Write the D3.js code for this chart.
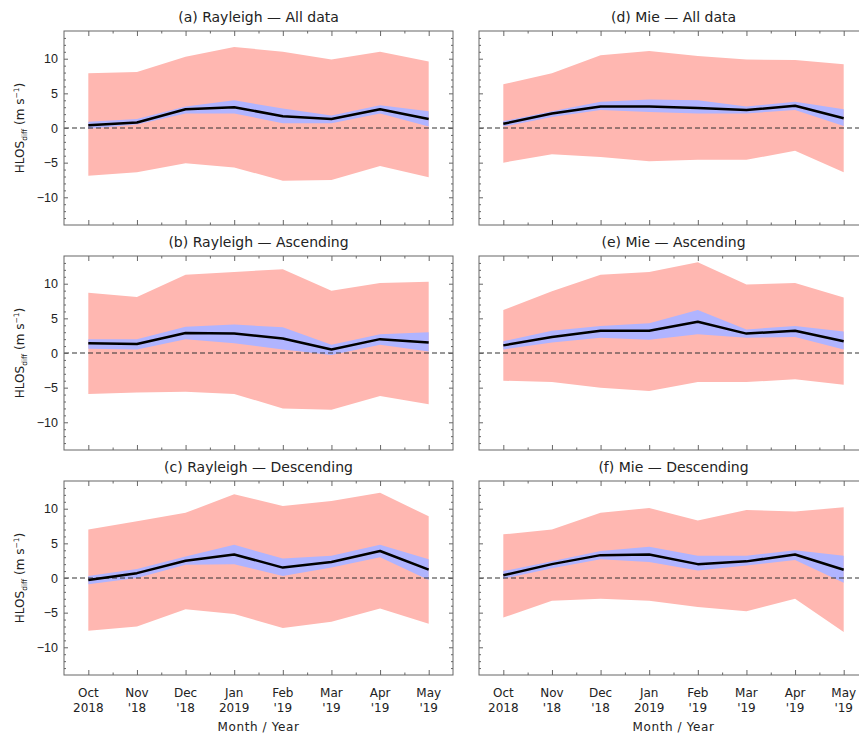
<!DOCTYPE html>
<html>
<head>
<meta charset="utf-8">
<script src="https://cdn.jsdelivr.net/npm/d3@7"></script>
<style>
  body { margin: 0; background: #fff; }
  svg { display: block; font-family: "DejaVu Sans", sans-serif; }
</style>
</head>
<body>
<div id="chart"></div>
<script>
const width = 859;
const height = 737;

// month index 0 = Oct 2018 ... 7 = May 2019
const months = [0, 1, 2, 3, 4, 5, 6, 7];
const monthNames = ["Oct", "Nov", "Dec", "Jan", "Feb", "Mar", "Apr", "May"];
const yearNames = ["2018", "'18", "'18", "2019", "'19", "'19", "'19", "'19"];
const xMinor = [0.5, 1.5, 2.5, 3.5, 4.5, 5.5, 6.5];
const yMajor = [-10, -5, 0, 5, 10];
const yMinor = [-13, -12, -11, -9, -8, -7, -6, -4, -3, -2, -1, 1, 2, 3, 4, 6, 7, 8, 9, 11, 12, 13];

// (a) Rayleigh - All data
const rayAllMean = [0.4, 0.8, 2.7, 3.0, 1.7, 1.3, 2.7, 1.3];
const rayAllCiHi = [0.9, 1.3, 3.1, 4.0, 2.8, 1.8, 3.3, 2.4];
const rayAllCiLo = [-0.1, 0.5, 2.1, 2.1, 0.7, 0.7, 2.1, 0.2];
const rayAllSdHi = [7.9, 8.1, 10.3, 11.7, 11.0, 9.9, 11.0, 9.6];
const rayAllSdLo = [-6.9, -6.4, -5.1, -5.7, -7.6, -7.5, -5.5, -7.1];

// (b) Rayleigh - Ascending
const rayAscMean = [1.4, 1.3, 2.9, 2.8, 2.1, 0.5, 2.0, 1.5];
const rayAscCiHi = [2.0, 2.0, 3.8, 4.1, 3.7, 1.2, 2.7, 3.0];
const rayAscCiLo = [0.6, 0.5, 2.0, 1.4, 0.5, -0.3, 1.2, 0.2];
const rayAscSdHi = [8.7, 8.1, 11.3, 11.7, 12.1, 9.0, 10.1, 10.3];
const rayAscSdLo = [-5.9, -5.7, -5.6, -5.9, -8.0, -8.2, -6.2, -7.4];

// (c) Rayleigh - Descending
const rayDesMean = [-0.3, 0.7, 2.5, 3.4, 1.5, 2.3, 3.9, 1.2];
const rayDesCiHi = [0.3, 1.3, 3.1, 4.8, 2.8, 3.2, 4.8, 2.7];
const rayDesCiLo = [-0.9, 0.0, 1.9, 2.0, 0.3, 1.5, 3.0, -0.3];
const rayDesSdHi = [7.0, 8.2, 9.4, 12.1, 10.4, 11.1, 12.3, 8.9];
const rayDesSdLo = [-7.6, -7.0, -4.5, -5.2, -7.2, -6.3, -4.4, -6.6];

// (d) Mie - All data
const mieAllMean = [0.6, 2.1, 3.1, 3.1, 2.9, 2.6, 3.2, 1.4];
const mieAllCiHi = [1.0, 2.4, 3.8, 4.1, 4.0, 3.1, 3.8, 2.7];
const mieAllCiLo = [0.2, 1.6, 2.6, 2.3, 2.1, 2.1, 2.6, 0.3];
const mieAllSdHi = [6.3, 7.9, 10.5, 11.1, 10.4, 9.9, 9.8, 9.2];
const mieAllSdLo = [-5.0, -3.8, -4.2, -4.8, -4.6, -4.6, -3.3, -6.4];

// (e) Mie - Ascending
const mieAscMean = [1.1, 2.3, 3.2, 3.2, 4.5, 2.8, 3.2, 1.7];
const mieAscCiHi = [1.7, 3.2, 3.9, 4.3, 6.2, 3.4, 3.9, 3.1];
const mieAscCiLo = [0.5, 1.5, 2.2, 1.9, 2.7, 2.2, 2.3, 0.5];
const mieAscSdHi = [6.2, 8.9, 11.3, 11.7, 13.1, 9.9, 10.1, 8.0];
const mieAscSdLo = [-4.0, -4.2, -5.0, -5.5, -4.2, -4.2, -3.8, -4.6];

// (f) Mie - Descending
const mieDesMean = [0.4, 2.0, 3.3, 3.4, 2.0, 2.4, 3.4, 1.2];
const mieDesCiHi = [1.0, 2.4, 3.9, 4.5, 3.2, 3.2, 4.0, 3.2];
const mieDesCiLo = [-0.1, 1.4, 2.7, 2.3, 1.1, 1.8, 2.6, -0.7];
const mieDesSdHi = [6.3, 7.0, 9.4, 10.1, 8.3, 9.8, 9.6, 10.2];
const mieDesSdLo = [-5.7, -3.3, -3.0, -3.3, -4.2, -4.8, -3.0, -7.8];

const panels = [
  {title: "(a) Rayleigh \u2014 All data",    col: 0, row: 0, mean: rayAllMean, ciHi: rayAllCiHi, ciLo: rayAllCiLo, sdHi: rayAllSdHi, sdLo: rayAllSdLo},
  {title: "(b) Rayleigh \u2014 Ascending",   col: 0, row: 1, mean: rayAscMean, ciHi: rayAscCiHi, ciLo: rayAscCiLo, sdHi: rayAscSdHi, sdLo: rayAscSdLo},
  {title: "(c) Rayleigh \u2014 Descending",  col: 0, row: 2, mean: rayDesMean, ciHi: rayDesCiHi, ciLo: rayDesCiLo, sdHi: rayDesSdHi, sdLo: rayDesSdLo},
  {title: "(d) Mie \u2014 All data",         col: 1, row: 0, mean: mieAllMean, ciHi: mieAllCiHi, ciLo: mieAllCiLo, sdHi: mieAllSdHi, sdLo: mieAllSdLo},
  {title: "(e) Mie \u2014 Ascending",        col: 1, row: 1, mean: mieAscMean, ciHi: mieAscCiHi, ciLo: mieAscCiLo, sdHi: mieAscSdHi, sdLo: mieAscSdLo},
  {title: "(f) Mie \u2014 Descending",       col: 1, row: 2, mean: mieDesMean, ciHi: mieDesCiHi, ciLo: mieDesCiLo, sdHi: mieDesSdHi, sdLo: mieDesSdLo}
];

const colLeft = [64, 479];
const rowTop = [31, 256, 481];
const pw = 389;
const ph = 194;
const frameColor = "#666";

const svg = d3.select("#chart").append("svg")
  .attr("width", width)
  .attr("height", height);

panels.forEach(p => drawPanel(p));

function drawPanel(p) {
  const x0 = colLeft[p.col];
  const y0 = rowTop[p.row];
  const x = d3.scaleLinear().domain([-0.5, 7.5]).range([x0, x0 + pw]);
  const y = d3.scaleLinear().domain([-14, 14]).range([y0 + ph, y0]);
  const g = svg.append("g");

  const pts = months.map(i => ({i, mean: p.mean[i], ciHi: p.ciHi[i], ciLo: p.ciLo[i], sdHi: p.sdHi[i], sdLo: p.sdLo[i]}));

  g.append("path")
    .datum(pts)
    .attr("fill", "#ffb7b1")
    .attr("d", d3.area().x(d => x(d.i)).y0(d => y(d.sdLo)).y1(d => y(d.sdHi)));

  g.append("path")
    .datum(pts)
    .attr("fill", "#b0b4ff")
    .attr("d", d3.area().x(d => x(d.i)).y0(d => y(d.ciLo)).y1(d => y(d.ciHi)));

  g.append("line")
    .attr("x1", x(-0.5)).attr("x2", x(7.5))
    .attr("y1", y(0)).attr("y2", y(0))
    .attr("stroke", "#333")
    .attr("stroke-width", 1.2)
    .attr("stroke-dasharray", "5,3");

  g.append("path")
    .datum(pts)
    .attr("fill", "none")
    .attr("stroke", "#000")
    .attr("stroke-width", 2.5)
    .attr("stroke-linejoin", "round")
    .attr("d", d3.line().x(d => x(d.i)).y(d => y(d.mean)));

  // frame
  g.append("rect")
    .attr("x", x0).attr("y", y0)
    .attr("width", pw).attr("height", ph)
    .attr("fill", "none")
    .attr("stroke", frameColor)
    .attr("stroke-width", 1);

  const styleAxis = sel => {
    sel.select(".domain").remove();
    sel.selectAll("line").attr("stroke", frameColor);
    sel.selectAll("text").attr("fill", "#222");
  };

  // x ticks, bottom and top, pointing inward
  const showX = p.row === 2;
  g.append("g").attr("transform", `translate(0,${y0 + ph})`)
    .call(d3.axisBottom(x).tickValues(months).tickSize(-5).tickFormat(""))
    .call(styleAxis);
  g.append("g").attr("transform", `translate(0,${y0 + ph})`)
    .call(d3.axisBottom(x).tickValues(xMinor).tickSize(-2.5).tickFormat(""))
    .call(styleAxis);
  g.append("g").attr("transform", `translate(0,${y0})`)
    .call(d3.axisTop(x).tickValues(months).tickSize(-5).tickFormat(""))
    .call(styleAxis);
  g.append("g").attr("transform", `translate(0,${y0})`)
    .call(d3.axisTop(x).tickValues(xMinor).tickSize(-2.5).tickFormat(""))
    .call(styleAxis);

  // y ticks, left and right, pointing inward
  const showY = p.col === 0;
  g.append("g").attr("transform", `translate(${x0},0)`)
    .call(d3.axisLeft(y).tickValues(yMajor).tickSize(-4).tickPadding(6)
      .tickFormat(d => showY ? (d < 0 ? "\u2212" + Math.abs(d) : d) : ""))
    .call(styleAxis)
    .call(a => a.selectAll("text").style("font-size", "12.5px"));
  g.append("g").attr("transform", `translate(${x0},0)`)
    .call(d3.axisLeft(y).tickValues(yMinor).tickSize(-2).tickFormat(""))
    .call(styleAxis);
  g.append("g").attr("transform", `translate(${x0 + pw},0)`)
    .call(d3.axisRight(y).tickValues(yMajor).tickSize(-4).tickFormat(""))
    .call(styleAxis);
  g.append("g").attr("transform", `translate(${x0 + pw},0)`)
    .call(d3.axisRight(y).tickValues(yMinor).tickSize(-2).tickFormat(""))
    .call(styleAxis);

  // title
  g.append("text")
    .attr("x", x0 + pw / 2)
    .attr("y", y0 - 9)
    .attr("text-anchor", "middle")
    .attr("fill", "#222")
    .style("font-size", "14px")
    .text(p.title);

  // y label
  if (showY) {
    const t = g.append("text")
      .attr("transform", `translate(24,${y0 + ph / 2}) rotate(-90)`)
      .attr("text-anchor", "middle")
      .attr("fill", "#222")
      .style("font-size", "12px");
    t.append("tspan").text("HLOS");
    t.append("tspan").attr("dy", 3).style("font-size", "7.5px").text("diff");
    t.append("tspan").attr("dy", -3).text(" (m s");
    t.append("tspan").attr("dy", -5).style("font-size", "7.5px").text("\u22121");
    t.append("tspan").attr("dy", 5).text(")");
  }

  // x labels
  if (showX) {
    const lab = g.append("g");
    lab.selectAll("text.m")
      .data(months)
      .join("text")
      .attr("class", "m")
      .attr("x", d => x(d))
      .attr("y", y0 + ph + 22)
      .attr("text-anchor", "middle")
      .attr("fill", "#222")
      .style("font-size", "12px")
      .text(d => monthNames[d]);
    lab.selectAll("text.yr")
      .data(months)
      .join("text")
      .attr("class", "yr")
      .attr("x", d => x(d))
      .attr("y", y0 + ph + 37)
      .attr("text-anchor", "middle")
      .attr("fill", "#222")
      .style("font-size", "12px")
      .text(d => yearNames[d]);
    g.append("text")
      .attr("x", x0 + pw / 2)
      .attr("y", y0 + ph + 56)
      .attr("text-anchor", "middle")
      .attr("fill", "#222")
      .style("font-size", "12px")
      .style("letter-spacing", "0.6px")
      .text("Month / Year");
  }
}
</script>
</body>
</html>
